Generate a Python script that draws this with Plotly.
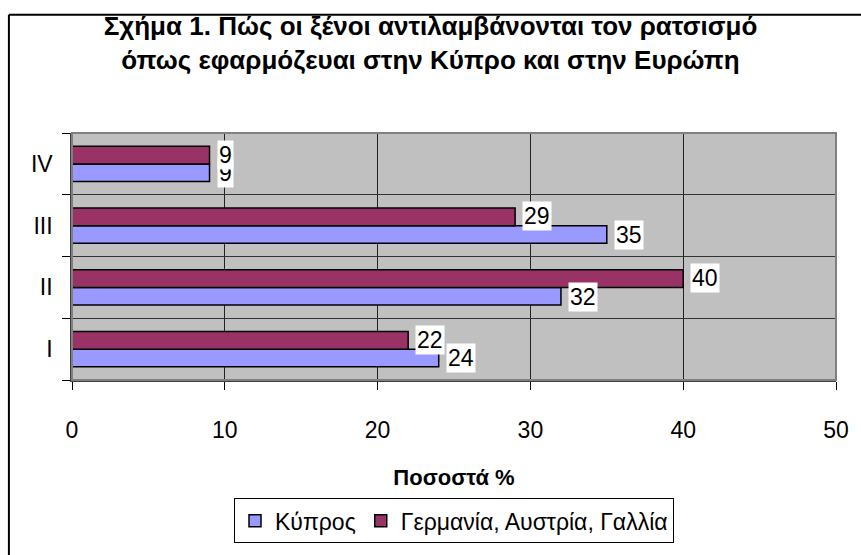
import plotly.graph_objects as go

categories = ["I", "II", "III", "IV"]
cyprus = [24, 32, 35, 9]
europe = [22, 40, 29, 9]
series_names = ["Κύπρος", "Γερμανία, Αυστρία, Γαλλία"]
title_text = "Σχήμα 1. Πώς οι ξένοι αντιλαμβάνονται τον ρατσισμό<br>όπως εφαρμόζευαι στην Κύπρο και στην Ευρώπη"
x_title = "Ποσοστά %"
x_ticks = [0, 10, 20, 30, 40, 50]

FONT = "Liberation Sans, Arial, sans-serif"
W, H = 861, 555
L, R, T, B = 72, 20, 133, 163
pw, ph = W - L - R, H - T - B

fig = go.Figure()
fig.add_trace(go.Bar(y=categories, x=cyprus, orientation="h", name=series_names[0],
                     marker=dict(color="#9999FF", line=dict(color="black", width=1.5))))
fig.add_trace(go.Bar(y=categories, x=europe, orientation="h", name=series_names[1],
                     marker=dict(color="#993366", line=dict(color="black", width=1.5))))

bargap = 0.43
shift = (1 - bargap) / 4 * ph / len(categories)
annotations = []
for vals, sgn in ((cyprus, -1), (europe, 1)):
    for c, v in zip(categories, vals):
        annotations.append(dict(x=v, y=c, xref="x", yref="y", text=str(v), showarrow=False,
                                xanchor="left", yanchor="middle", xshift=7, yshift=sgn * shift,
                                bgcolor="white", borderpad=1,
                                font=dict(family=FONT, size=23, color="black")))

# outer chart frame (only left and top edges fall inside the picture)
fx0 = (8.5 - L) / pw
fy1 = (T + ph - 9) / ph
frame = [
    dict(type="line", xref="paper", yref="paper", x0=fx0, x1=fx0, y0=fy1, y1=-1.0,
         line=dict(color="black", width=2), layer="above"),
    dict(type="line", xref="paper", yref="paper", x0=fx0, x1=1.2, y0=fy1, y1=fy1,
         line=dict(color="black", width=2), layer="above"),
]

fig.update_layout(
    width=W, height=H,
    margin=dict(l=L, r=R, t=T, b=B),
    paper_bgcolor="white", plot_bgcolor="#C0C0C0",
    barmode="group", bargap=bargap, bargroupgap=0,
    title=dict(text=title_text, x=0.5, xref="container", xanchor="center",
               y=1 - 35 / H, yanchor="top",
               font=dict(family=FONT, size=26, color="black", weight="bold")),
    xaxis=dict(range=[0, 50], tickvals=x_ticks, ticks="outside", ticklen=8, tickcolor="black",
               showgrid=True, gridcolor="#222222", gridwidth=1,
               showline=True, linecolor="#404040", linewidth=1.5,
               tickfont=dict(family=FONT, size=23, color="black"), ticklabelstandoff=21,
               title=dict(text="<b>" + x_title + "</b>", standoff=27,
                          font=dict(family=FONT, size=22, color="black")),
               zeroline=False, fixedrange=True),
    yaxis=dict(type="category", categoryorder="array", categoryarray=categories,
               tickson="boundaries", ticks="outside", ticklen=8, tickcolor="black",
               showgrid=True, gridcolor="#333333", gridwidth=1,
               showline=True, linecolor="#404040", linewidth=1.5,
               tickfont=dict(family=FONT, size=23, color="black"), ticklabelstandoff=13,
               fixedrange=True),
    legend=dict(orientation="h", x=0.5, xanchor="center", y=(0 - (516 - 392)) / ph, yanchor="top",
                bordercolor="black", borderwidth=1, bgcolor="white",
                font=dict(family=FONT, size=23, color="black"),
                itemwidth=30, tracegroupgap=0),
    showlegend=True,
    annotations=annotations,
    shapes=[
        dict(type="rect", xref="paper", yref="paper", x0=0, x1=1, y0=0, y1=1,
             line=dict(color="#808080", width=2), layer="above"),
    ] + frame,
)

fig.write_html("out.html", config={"displayModeBar": False},
               post_script="document.body.style.margin='0px';")
